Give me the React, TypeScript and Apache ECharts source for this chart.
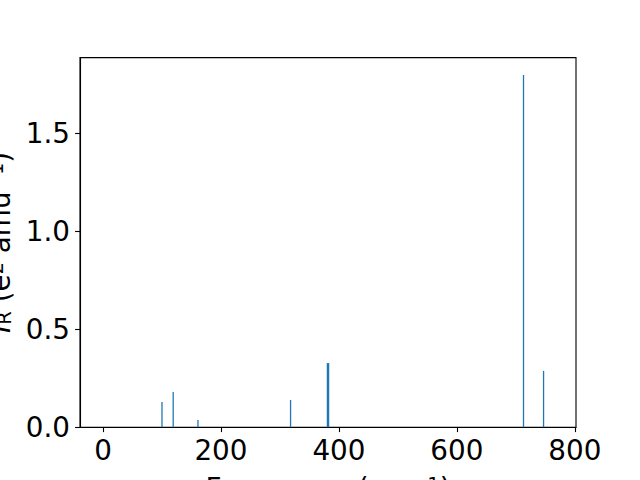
import React, { useEffect, useRef } from "react";
import * as echarts from "echarts";

const frequencies = [100, 119, 161, 318, 380.5, 382.5, 713, 747];
const intensities = [0.128, 0.18, 0.037, 0.139, 0.327, 0.327, 1.796, 0.287];
const xTicks = [0, 200, 400, 600, 800];
const yTicks = [0, 0.5, 1.0, 1.5];

const FONT = "DejaVu Sans";
const FS = 27.8;
const FS_SMALL = 19.5;

export default function App() {
  const ref = useRef<HTMLDivElement>(null);
  useEffect(() => {
    if (!ref.current) return;
    const chart = echarts.init(ref.current, undefined, { renderer: "svg" });
    chart.setOption({
      animation: false,
      backgroundColor: "#ffffff",
      grid: {
        left: 80,
        right: 64,
        top: 57.6,
        bottom: 52.8,
        containLabel: false,
        outerBoundsMode: "none",
        show: true,
        borderColor: "#000",
        borderWidth: 1.1,
        backgroundColor: "transparent",
      },
      xAxis: {
        type: "value",
        min: -39,
        max: 802,
        name: "Frequency (cm{sup|−1})",
        nameLocation: "middle",
        nameGap: 47,
        nameTextStyle: {
          fontFamily: FONT,
          fontSize: FS,
          color: "#000",
          verticalAlign: "top",
          rich: {
            sup: { fontFamily: FONT, fontSize: FS_SMALL, color: "#000", verticalAlign: "top" },
          },
        },
        splitLine: { show: false },
        axisLine: { onZero: false, lineStyle: { color: "#000", width: 1.1 } },
        axisTick: { customValues: xTicks, length: 4.9, lineStyle: { color: "#000", width: 1.1 } },
        axisLabel: {
          customValues: xTicks,
          fontFamily: FONT,
          fontSize: FS,
          color: "#000",
          margin: 9,
          formatter: (v: number) => String(Math.round(v)),
        },
      },
      yAxis: {
        type: "value",
        min: 0,
        max: 1.885,
        name: "{it|I}{sub|R} (e{sup|2} amu{sup|−1})",
        nameLocation: "middle",
        nameGap: 65,
        nameRotate: 90,
        nameTextStyle: {
          fontFamily: FONT,
          fontSize: FS,
          color: "#000",
          rich: {
            it: { fontFamily: FONT, fontSize: FS, fontStyle: "italic", color: "#000" },
            sub: { fontFamily: FONT, fontSize: FS_SMALL, color: "#000", verticalAlign: "bottom" },
            sup: { fontFamily: FONT, fontSize: FS_SMALL, color: "#000", verticalAlign: "top" },
          },
        },
        splitLine: { show: false },
        axisLine: { show: true, onZero: false, lineStyle: { color: "#000", width: 1.1 } },
        axisTick: { show: true, customValues: yTicks, length: 4.9, lineStyle: { color: "#000", width: 1.1 } },
        axisLabel: {
          customValues: yTicks,
          fontFamily: FONT,
          fontSize: FS,
          color: "#000",
          margin: 10,
          formatter: (v: number) => v.toFixed(1),
        },
      },
      series: [
        {
          type: "bar",
          barWidth: 1.3,
          itemStyle: { color: "#1f77b4" },
          data: frequencies.map((f, i) => [f, intensities[i]]),
        },
      ],
    });
    return () => chart.dispose();
  }, []);
  return (
    <div
      ref={ref}
      style={{ position: "fixed", left: 0, top: 0, width: 640, height: 480 }}
    />
  );
}
